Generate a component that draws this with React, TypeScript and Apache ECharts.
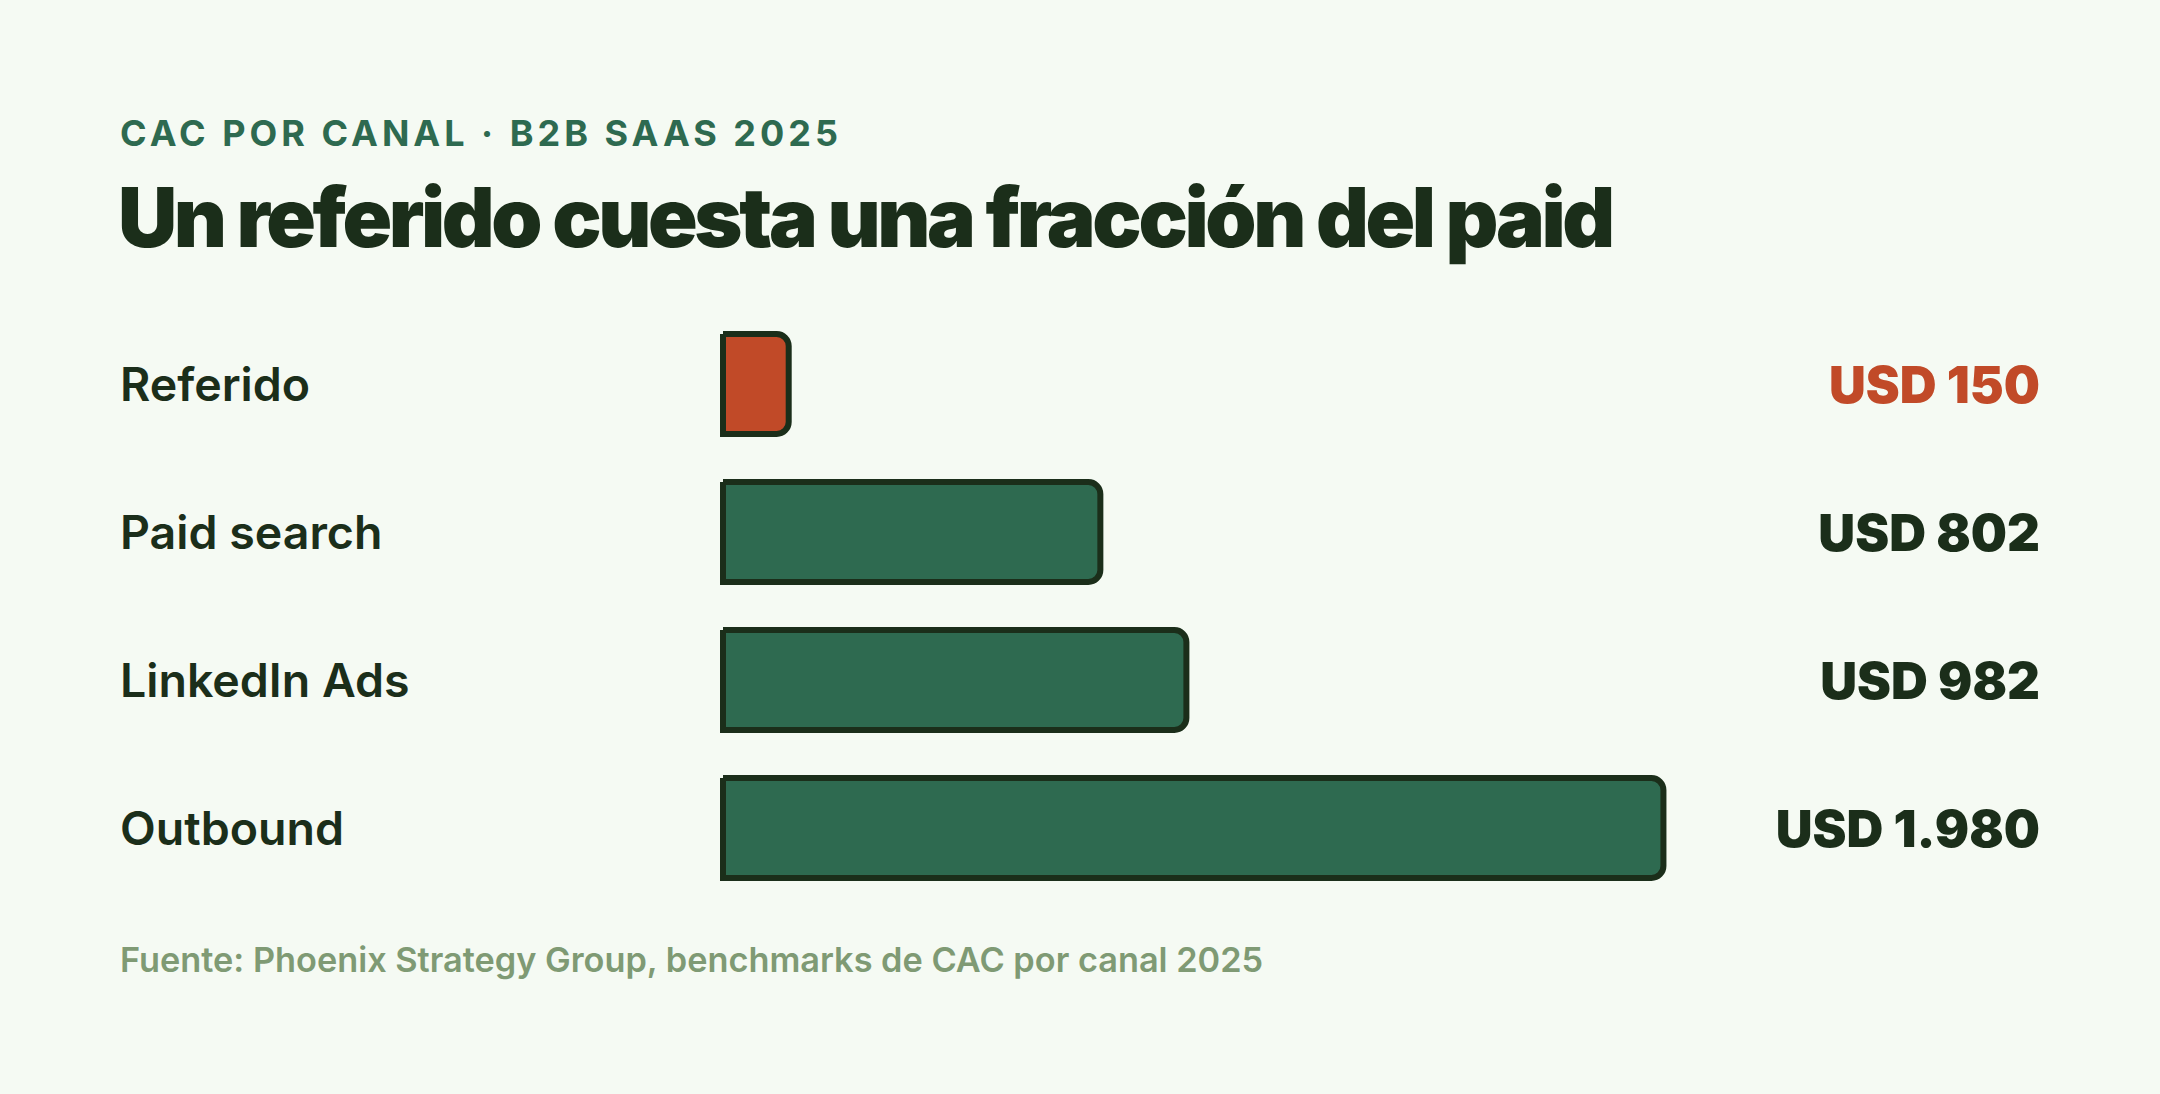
import { useEffect, useRef } from "react";
import * as echarts from "echarts";

const canales = ["Referido", "Paid search", "LinkedIn Ads", "Outbound"];
const cac = [150, 802, 982, 1980];
const etiquetas = ["USD 150", "USD 802", "USD 982", "USD 1.980"];
const resaltado = 0;

const FONDO = "#f5faf3";
const OSCURO = "#1b2e1a";
const VERDE = "#2e6a50";
const NARANJA = "#c14a28";
const GRIS = "#7f9a74";

const SUBTITULO = "CAC POR CANAL · B2B SAAS 2025";
const TITULO = "Un referido cuesta una fracción del paid";
const FUENTE = "Fuente: Phoenix Strategy Group, benchmarks de CAC por canal 2025";

// zrender no tiene letterSpacing: se aplica sobre el svg ya dibujado
const espaciado: Record<string, string> = {
  [SUBTITULO]: "4px",
  [TITULO]: "-3.4px",
};

export default function App() {
  const chartRef = useRef<HTMLDivElement>(null);

  useEffect(() => {
    if (!chartRef.current) return;
    const el = chartRef.current;
    const chart = echarts.init(el, null, { renderer: "svg" });

    const aplicarEspaciado = () => {
      el.querySelectorAll("text").forEach((t) => {
        const ls = espaciado[t.textContent || ""];
        if (ls) t.setAttribute("letter-spacing", ls);
      });
    };
    chart.on("finished", aplicarEspaciado);

    chart.setOption({
      backgroundColor: FONDO,
      animation: false,
      textStyle: { fontFamily: "Inter" },
      title: [
        {
          text: SUBTITULO,
          left: 120,
          top: 115,
          padding: 0,
          textStyle: { color: VERDE, fontSize: 36, fontWeight: 700, fontFamily: "Inter" },
        },
        {
          text: TITULO,
          left: 118,
          top: 176,
          padding: 0,
          textStyle: { color: OSCURO, fontSize: 82, fontWeight: 900, fontFamily: "Inter" },
        },
        {
          text: FUENTE,
          left: 120,
          top: 942,
          padding: 0,
          textStyle: { color: GRIS, fontSize: 34.3, fontWeight: 600, fontFamily: "Inter" },
        },
      ],
      grid: { left: 720, right: 484, top: 310, height: 592 },
      xAxis: {
        type: "value",
        min: 0,
        max: 2000,
        show: false,
      },
      yAxis: [
        {
          type: "category",
          data: canales,
          inverse: true,
          axisLine: { show: false },
          axisTick: { show: false },
          axisLabel: {
            align: "left",
            margin: 600,
            color: OSCURO,
            fontSize: 46.5,
            fontWeight: 600,
            fontFamily: "Inter",
          },
        },
        {
          type: "category",
          data: etiquetas,
          inverse: true,
          position: "right",
          axisLine: { show: false },
          axisTick: { show: false },
          axisLabel: {
            align: "right",
            margin: 364,
            color: (_v: string, i: number) => (i === resaltado ? NARANJA : OSCURO),
            fontSize: 51,
            fontWeight: 900,
            fontFamily: "Inter",
          },
        },
      ],
      series: [
        {
          type: "bar",
          data: cac.map((v, i) => ({
            value: v,
            itemStyle: { color: i === resaltado ? NARANJA : VERDE },
          })),
          barWidth: 106,
          itemStyle: {
            borderColor: OSCURO,
            borderWidth: 6,
            borderRadius: [0, 12, 12, 0],
          },
        },
      ],
    });
    aplicarEspaciado();

    const onResize = () => chart.resize();
    window.addEventListener("resize", onResize);
    return () => {
      window.removeEventListener("resize", onResize);
      chart.dispose();
    };
  }, []);

  return (
    <div style={{ position: "fixed", inset: 0, background: FONDO }}>
      <div ref={chartRef} style={{ width: "100%", height: "100%" }} />
    </div>
  );
}
